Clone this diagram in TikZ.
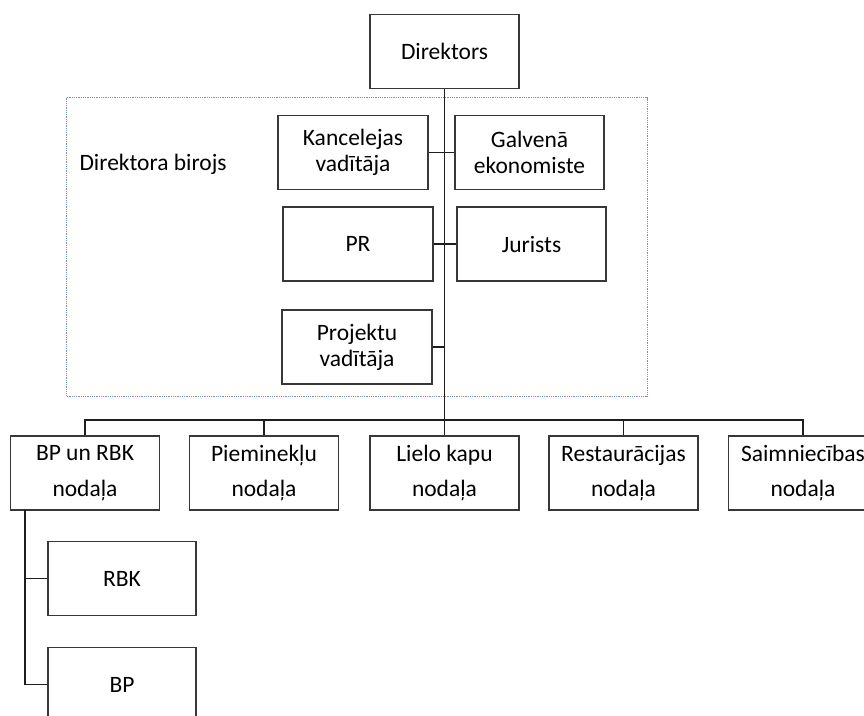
\documentclass[tikz,border=0pt]{standalone}
\usepackage{fontspec}
\setmainfont{Carlito}
\definecolor{linec}{RGB}{30,30,30}
\definecolor{boxc}{RGB}{55,55,55}
\definecolor{dotc}{RGB}{120,145,200}
\begin{document}
\begin{tikzpicture}[x=1pt,y=-1pt,
  orgbox/.style={draw=boxc,line width=1.4pt,rectangle,minimum width=149pt,minimum height=74pt,align=center,inner sep=0pt,
    font=\fontsize{23.5}{26}\selectfont},
  deptbox/.style={orgbox,font=\fontsize{23.5}{35.5}\selectfont},
  conn/.style={draw=linec,line width=1.4pt}]
\useasboundingbox (0,0) rectangle (864,715);
\clip (0,0) rectangle (864,715);
\fill[white] (0,0) rectangle (864,715);
% office frame
\draw[dotc,line width=1pt,dash pattern=on 1pt off 0.8pt] (66.5,97.5) rectangle (647,396);
\node[anchor=base west,font=\fontsize{23.5}{26}\selectfont] (office) at (76,170) {Direktora birojs};
% nodes
\node[orgbox] (dir) at (444.5,51.5) {Direktors};
\node[orgbox,minimum width=150pt] (kanc) at (353,152.5) {Kancelejas\\vadītāja};
\node[orgbox] (galv) at (529.5,152.5) {Galvenā\\ekonomiste};
\node[orgbox,minimum width=150pt] (pr) at (358,244) {PR};
\node[orgbox] (jur) at (531.5,244) {Jurists};
\node[orgbox,minimum width=150pt] (proj) at (357,347) {Projektu\\vadītāja};
\node[deptbox] (bpd) at (85,473) {BP un RBK\\nodaļa};
\node[deptbox] (piem) at (264,473) {Pieminekļu\\nodaļa};
\node[deptbox] (liel) at (444.5,473) {Lielo kapu\\nodaļa};
\node[deptbox] (rest) at (623.5,473) {Restaurācijas\\nodaļa};
\node[deptbox] (saim) at (803,473) {Saimniecības\\nodaļa};
\node[orgbox,minimum width=148pt] (rbk) at (122,578.5) {RBK};
\node[orgbox,minimum width=148pt] (bp) at (122,684.5) {BP};
\coordinate (bus) at (444.5,420);
\coordinate (sl) at (25,510);
% connectors
\draw[conn] (dir.south) -- (liel.north);
\draw[conn] (kanc.east) -- (galv.west);
\draw[conn] (pr.east) -- (jur.west);
\draw[conn] (proj.east) -- (proj.east -| dir.south);
\draw[conn] (bpd.north) -- (bpd.north |- bus) -- (saim.north |- bus) -- (saim.north);
\draw[conn] (piem.north) -- (piem.north |- bus);
\draw[conn] (rest.north) -- (rest.north |- bus);
\draw[conn] (sl) |- (bp.west);
\draw[conn] (sl |- rbk.west) -- (rbk.west);
\end{tikzpicture}
\end{document}
